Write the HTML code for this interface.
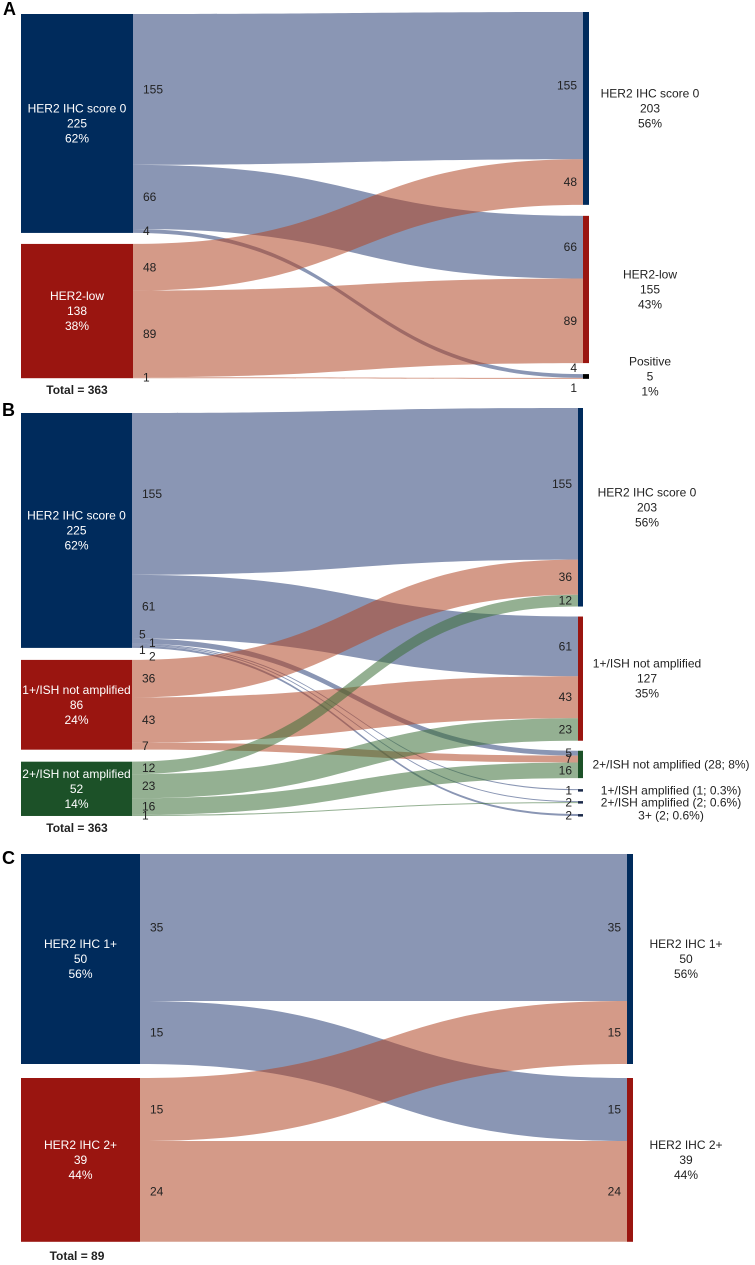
<!DOCTYPE html>
<html><head><meta charset="utf-8"><style>
html,body{margin:0;padding:0;background:#fff;}
svg{display:block;font-family:"Liberation Sans",Arial,sans-serif;}
</style></head><body>
<svg id="fig" width="755" height="1265" viewBox="0 0 755 1265" xmlns="http://www.w3.org/2000/svg"></svg>
<script>
// ---------- Panel A data ----------
const aLeftNames = ["HER2 IHC score 0", "HER2-low"];
const aLeftValues = [225, 138];
const aRightNames = ["HER2 IHC score 0", "HER2-low", "Positive"];
const aRightValues = [203, 155, 5];
const aFlowSource = [0, 0, 0, 1, 1, 1];
const aFlowTarget = [0, 1, 2, 0, 1, 2];
const aFlowValue = [155, 66, 4, 48, 89, 1];
const aTotal = 363;

// ---------- Panel B data ----------
const bLeftNames = ["HER2 IHC score 0", "1+/ISH not amplified", "2+/ISH not amplified"];
const bLeftValues = [225, 86, 52];
const bRightNames = ["HER2 IHC score 0", "1+/ISH not amplified", "2+/ISH not amplified", "1+/ISH amplified", "2+/ISH amplified", "3+"];
const bRightValues = [203, 127, 28, 1, 2, 2];
const bFlowSource = [0, 0, 0, 0, 0, 0, 1, 1, 1, 2, 2, 2, 2];
const bFlowTarget = [0, 1, 2, 3, 4, 5, 0, 1, 2, 0, 1, 2, 4];
const bFlowValue = [155, 61, 5, 1, 1, 2, 36, 43, 7, 12, 23, 16, 1];
const bTotal = 363;

// ---------- Panel C data ----------
const cLeftNames = ["HER2 IHC 1+", "HER2 IHC 2+"];
const cLeftValues = [50, 39];
const cRightNames = ["HER2 IHC 1+", "HER2 IHC 2+"];
const cRightValues = [50, 39];
const cFlowSource = [0, 0, 1, 1];
const cFlowTarget = [0, 1, 0, 1];
const cFlowValue = [35, 15, 15, 24];
const cTotal = 89;

const svg = document.getElementById('fig');
const NS = 'http://www.w3.org/2000/svg';
const nodeColors = ['#002b5c', '#9a1510', '#1c5128'];
const linkColors = ['rgb(42,64,119)', 'rgb(177,71,39)', 'rgb(60,111,57)'];

function mk(tag, attrs, parent) {
  const e = document.createElementNS(NS, tag);
  for (const k in attrs) e.setAttribute(k, attrs[k]);
  (parent || svg).appendChild(e);
  return e;
}
function pct(v, t) {
  const p = v / t * 100;
  return p < 0.95 ? p.toFixed(1) + '%' : (v < 3 ? p.toFixed(1) + '%' : Math.round(p) + '%');
}
function txt(x, y, s, opt, parent) {
  const t = mk('text', {x: x, y: y, 'font-size': opt.size || 12, fill: opt.fill || '#222', 'text-anchor': opt.anchor || 'middle', 'dominant-baseline': 'central'}, parent);
  if (opt.weight) t.setAttribute('font-weight', opt.weight);
  t.textContent = s;
  return t;
}

function drawPanel(cfg) {
  const g = mk('g', {});
  
  
  const L = cfg.layout;
  const lTop = [], rTop = [], rH = [];
  let y = L.lTop;
  cfg.leftValues.forEach((v) => { lTop.push(y); y += v * L.kL + L.lGap; });
  y = L.rTop;
  cfg.rightValues.forEach((v) => {
    const h = v * L.kR;
    if (h < 5 && rTop.length > 0 && L.tinyGap) y += L.tinyGap - L.rGap;
    rTop.push(y); rH.push(h); y += h + L.rGap;
  });
  const lCum = cfg.leftValues.map(() => 0), rCum = cfg.rightValues.map(() => 0);
  const rCount = cfg.rightValues.map(() => 0);
  const linksG = mk('g', {}, g);
  
  
  const labels = [];
  let smallK = 0;
  const rightLabelled = {};
  cfg.src.forEach((s, i) => {
    const t = cfg.tgt[i], v = cfg.val[i];
    const s0 = lTop[s] + lCum[s] * L.kL, s1 = s0 + Math.max(v * L.kL, 1);
    const t0 = rTop[t] + rCum[t] * L.kR, t1 = t0 + Math.max(v * L.kR, 1);
    lCum[s] += v; rCum[t] += v; rCount[t]++;
    const x0 = L.lX + L.lW, x1 = L.rX, w = x1 - x0;
    const xa = x0 + w * 0.52, xb = x1 - w * 0.52;
    const p = mk('path', {d: `M${x0},${s0} C${xa},${s0} ${xb},${t0} ${x1},${t0} L${x1},${t1} C${xb},${t1} ${xa},${s1} ${x0},${s1} Z`, fill: linkColors[s], 'fill-opacity': 0.55}, linksG);
    
    
    let ly = (s0 + s1) / 2, lx = x0 + 10;
    if (cfg.stagger && s === 0 && v < 10) {
      if (v >= 4) { ly = s0 - 4; lx = x0 + 7; }
      else { smallK++; ly = s0 - 6 + smallK * 5.5; lx = x0 + (smallK % 2 === 1 ? 17 : 7); }
    }
    labels.push([lx, ly, String(v), 'start', 'flow-label-left']);
    const tv = cfg.rightValues[t];
    const th = tv * L.kR;
    if (th < 8 && cfg.rightValues.length === 3) {
      const ry = rCount[t] === 1 ? rTop[t] - 6 : rTop[t] + Math.max(th, 2.5) + 9;
      labels.push([L.rX - 6, ry, String(v), 'end', 'flow-label-right']);
    } else if (th < 5) {
      if (!rightLabelled[t]) {
        rightLabelled[t] = true;
        labels.push([L.rX - 6, rTop[t] + 1.5, String(tv), 'end', 'flow-label-right']);
      }
    } else {
      labels.push([L.rX - 6, (t0 + t1) / 2, String(v), 'end', 'flow-label-right']);
    }
  });
  cfg.leftValues.forEach((v, i) => {
    const h = v * L.kL;
    const r = mk('rect', {x: L.lX, y: lTop[i], width: L.lW, height: h, fill: nodeColors[i]}, g);
    
    
    const cy = lTop[i] + h / 2, cx = L.lX + L.lW / 2;
    [cfg.leftNames[i], String(v), pct(v, cfg.total)].forEach((s, j) => {
      const t = txt(cx, cy + (j - 1) * 15, s, {fill: '#fff'}, g);
      
      
    });
  });
  cfg.rightValues.forEach((v, i) => {
    const h = Math.max(rH[i], 2.5);
    const r = mk('rect', {x: L.rX, y: rTop[i], width: L.rW, height: h, fill: i < 3 ? nodeColors[i] : '#1b2a4a'}, g);
    if (cfg.name === 'panel-a' && i === 2) r.setAttribute('fill', '#000');
    
    
    const cy = rTop[i] + h / 2;
    if (cfg.singleLine && i >= 2) {
      const t = txt(cfg.singleX, cy, cfg.rightNames[i] + ' (' + v + '; ' + pct(v, cfg.total) + ')', {}, g);
      
      
    } else {
      [cfg.rightNames[i], String(v), pct(v, cfg.total)].forEach((s, j) => {
        const t = txt(L.rLabelX, cy + (j - 1) * 15, s, {}, g);
        
        
      });
    }
  });
  labels.forEach(l => {
    const t = txt(l[0], l[1], l[2], {anchor: l[3]}, g);
    
    
  });
  const tt = txt(L.lX + 56, L.totalY, 'Total = ' + cfg.total, {weight: 'bold'}, g);
  
  
  const pl = txt(L.letterX, L.letterY, cfg.letter, {size: 18, weight: 'bold', anchor: 'start', fill: '#000'}, g);
  
  
}

drawPanel({name: 'panel-a', letter: 'A', leftNames: aLeftNames, leftValues: aLeftValues, rightNames: aRightNames, rightValues: aRightValues,
  src: aFlowSource, tgt: aFlowTarget, val: aFlowValue, total: aTotal,
  layout: {lX: 21, lW: 112, lTop: 14, kL: 0.973, lGap: 11, rX: 583, rW: 6, rTop: 12, kR: 0.95, rGap: 11, rLabelX: 650, totalY: 390, letterX: 3, letterY: 9}});
drawPanel({name: 'panel-b', letter: 'B', leftNames: bLeftNames, leftValues: bLeftValues, rightNames: bRightNames, rightValues: bRightValues,
  src: bFlowSource, tgt: bFlowTarget, val: bFlowValue, total: bTotal, stagger: true, singleLine: true, singleX: 671,
  layout: {lX: 21, lW: 111, lTop: 413, kL: 1.044, lGap: 12, rX: 578, rW: 5, rTop: 408, kR: 0.978, rGap: 10, tinyGap: 11, rLabelX: 647, totalY: 828, letterX: 2, letterY: 410}});
drawPanel({name: 'panel-c', letter: 'C', leftNames: cLeftNames, leftValues: cLeftValues, rightNames: cRightNames, rightValues: cRightValues,
  src: cFlowSource, tgt: cFlowTarget, val: cFlowValue, total: cTotal,
  layout: {lX: 21, lW: 119, lTop: 854, kL: 4.2, lGap: 14, rX: 627, rW: 6, rTop: 854, kR: 4.2, rGap: 14, rLabelX: 686, totalY: 1256, letterX: 2, letterY: 858}});
</script>
</body></html>
